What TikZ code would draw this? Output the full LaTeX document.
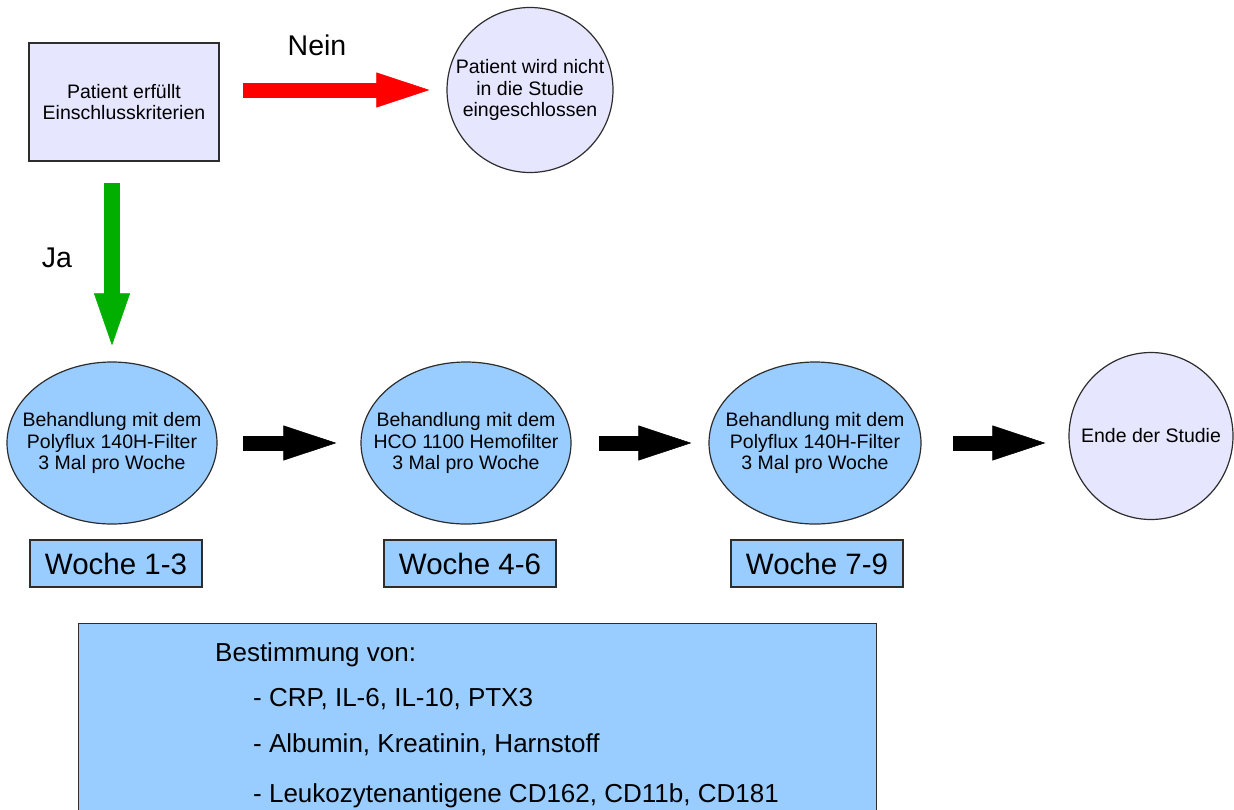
\documentclass[tikz,border=0pt]{standalone}
\usepackage{fontspec}
\setmainfont{Liberation Sans}
\usetikzlibrary{arrows.meta,shapes.geometric}
\definecolor{lav}{RGB}{230,230,255}
\definecolor{lblue}{RGB}{153,204,255}
\definecolor{bord}{RGB}{45,45,45}
\definecolor{agreen}{RGB}{0,175,0}
\definecolor{ared}{RGB}{255,0,0}
\begin{document}
\begin{tikzpicture}[x=1pt,y=-1pt,
  small/.style={font=\fontsize{19.5}{21.5}\selectfont, align=center},
  lavbox/.style={draw=bord, line width=1.2pt, fill=lav},
  ell/.style={draw=bord, line width=1.2pt, ellipse, inner sep=0pt},
  blueell/.style={ell, fill=lblue, minimum width=210pt, minimum height=162pt},
  txt/.style={label={[small, inner sep=0pt]center:#1}},
  weekbox/.style={draw=bord, line width=1.2pt, fill=lblue, minimum width=172pt,
    minimum height=47pt, inner sep=0pt, font=\fontsize{29.5}{32}\selectfont},
  biglabel/.style={font=\fontsize{28.5}{30}\selectfont, inner sep=0pt},
  meastext/.style={font=\fontsize{26}{30}\selectfont, inner sep=0pt, anchor=base west},
  fat/.style={line width=15pt, -{Triangle[length=53pt,width=35pt,line width=0.5pt]}},
]
\useasboundingbox (0,0) rectangle (1234,809);
\clip (0,0) rectangle (1234,809);

% top row
\node[lavbox, minimum width=190pt, minimum height=118pt, small] (crit) at (124,102)
  {Patient erfüllt\\Einschlusskriterien};
\node[ell, fill=lav, minimum width=166pt, minimum height=165pt,
  txt={Patient wird nicht\\in die Studie\\eingeschlossen}] (nocirc) at (530,90) {};
\node[biglabel] (nein) at (317,45) {Nein};
\node[biglabel] (ja) at (57,258) {Ja};

% treatment row
\node[blueell, txt={Behandlung mit dem\\Polyflux 140H-Filter\\3 Mal pro Woche}] (e1) at (112,443) {};
\node[blueell, txt={Behandlung mit dem\\HCO 1100 Hemofilter\\3 Mal pro Woche}] (e2) at (466,443) {};
\node[blueell, minimum width=212pt, txt={Behandlung mit dem\\Polyflux 140H-Filter\\3 Mal pro Woche}] (e3) at (815,443) {};
\node[ell, fill=lav, minimum width=164pt, minimum height=167pt,
  txt={Ende der Studie}] (ende) at (1151,436) {};

% week boxes
\node[weekbox] (w1) at (116,563.5) {Woche 1-3};
\node[weekbox] (w2) at (470,563.5) {Woche 4-6};
\node[weekbox] (w3) at (817,563.5) {Woche 7-9};

% measurement box
\node[draw=bord, line width=1.2pt, fill=lblue, anchor=north west, inner sep=0pt,
  minimum width=798pt, minimum height=220pt] (meas) at (78,623) {};
\node[meastext] (m0) at (215,661) {Bestimmung von:};
\node[meastext] (m1) at (253,706) {- CRP, IL-6, IL-10, PTX3};
\node[meastext] (m2) at (253,752) {- Albumin, Kreatinin, Harnstoff};
\node[meastext] (m3) at (253,802) {- Leukozytenantigene CD162, CD11b, CD181};

% arrows
\draw[fat, ared, shorten <=23pt, shorten >=17pt] (crit.east |- nocirc) -- (nocirc.west);
\draw[agreen, line width=16pt, -{Triangle[length=52pt,width=36pt,line width=0.5pt]},
  shorten <=21pt, shorten >=16pt] (crit.south -| e1) -- (e1.north);
\draw[fat, black, shorten <=25pt, shorten >=24pt] (e1.east) -- (e2.west);
\draw[fat, black, shorten <=27pt, shorten >=17pt] (e2.east) -- (e3.west);
\draw[fat, black, shorten <=31pt, shorten >=23pt] (e3.east) -- (e3.east -| ende.west);
\end{tikzpicture}
\end{document}
